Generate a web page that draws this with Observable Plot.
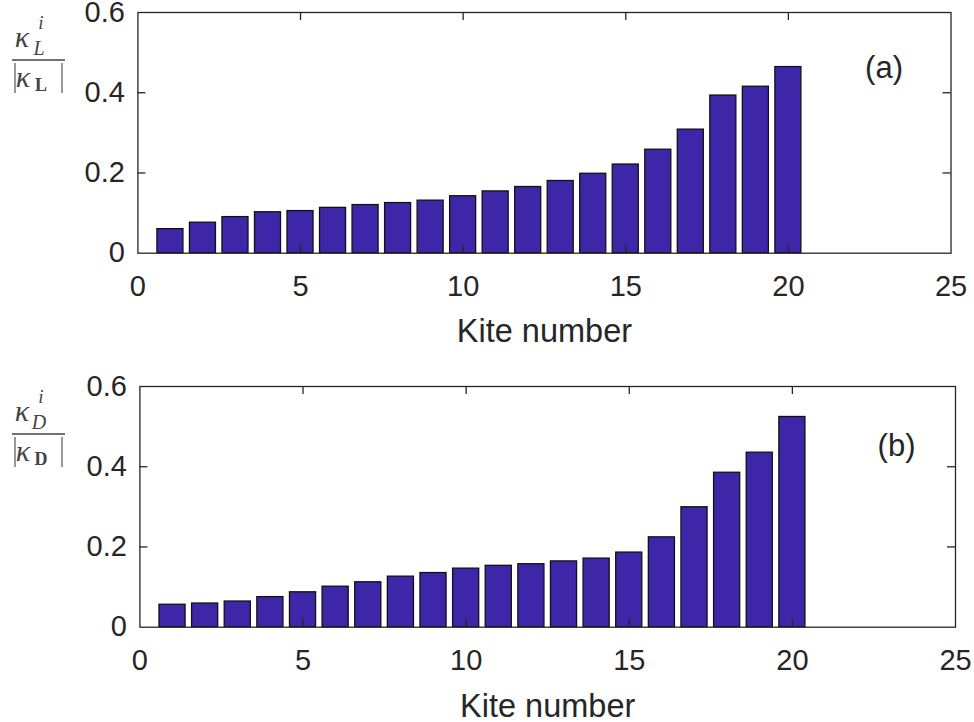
<!DOCTYPE html>
<html>
<head>
<meta charset="utf-8">
<script src="https://cdn.jsdelivr.net/npm/d3@7"></script>
<script src="https://cdn.jsdelivr.net/npm/@observablehq/plot@0.6"></script>
<style>
  html, body { margin: 0; padding: 0; background: #fff; }
  #chart svg { display: block; }
</style>
</head>
<body>
<div id="chart"></div>
<script>
// ---- data ----
const kiteNumbers = [1, 2, 3, 4, 5, 6, 7, 8, 9, 10, 11, 12, 13, 14, 15, 16, 17, 18, 19, 20];
const liftShare = [0.060, 0.076, 0.090, 0.102, 0.105, 0.113, 0.120, 0.125, 0.131, 0.142,
                   0.154, 0.165, 0.180, 0.198, 0.221, 0.258, 0.308, 0.393, 0.415, 0.464];
const dragShare = [0.056, 0.059, 0.064, 0.075, 0.087, 0.101, 0.112, 0.126, 0.135, 0.146,
                   0.153, 0.157, 0.164, 0.171, 0.186, 0.224, 0.299, 0.385, 0.435, 0.524];
const xTicks = [0, 5, 10, 15, 20, 25];
const yTicks = [0, 0.2, 0.4, 0.6];
const xInnerTicks = [5, 10, 15, 20];
const yInnerTicks = [0.2, 0.4];
const xLabel = "Kite number";
const panelTags = ["(a)", "(b)"];
const subscripts = ["L", "D"];

const W = 974;
const barColor = "#3e26a8";
const ink = "#262626";

function panel(values, tag, sub, g) {
  const data = kiteNumbers.map((k, i) => ({k, v: values[i]}));
  const fw = W - g.ml - g.mr;
  const fh = g.h - g.mt - g.mb;
  const tl = 8;
  const svg = Plot.plot({
    width: W,
    height: g.h,
    marginTop: g.mt,
    marginBottom: g.mb,
    marginLeft: g.ml,
    marginRight: g.mr,
    style: {fontFamily: "'Liberation Sans', Arial, sans-serif", color: ink, background: "white", overflow: "visible"},
    x: {domain: [0, 25]},
    y: {domain: [0, 0.6]},
    marks: [
      Plot.rectY(data, {x1: d => d.k - 0.4, x2: d => d.k + 0.4, y: "v",
        fill: barColor, stroke: "#111", strokeWidth: 1.3}),
      Plot.frame({stroke: ink, strokeWidth: 1.3}),
      Plot.tickX(xInnerTicks, {x: d => d, insetTop: fh - tl, stroke: ink, strokeWidth: 1.3}),
      Plot.tickX(xInnerTicks, {x: d => d, insetBottom: fh - tl, stroke: ink, strokeWidth: 1.3}),
      Plot.tickY(yInnerTicks, {y: d => d, insetRight: fw - tl, stroke: ink, strokeWidth: 1.3}),
      Plot.tickY(yInnerTicks, {y: d => d, insetLeft: fw - tl, stroke: ink, strokeWidth: 1.3}),
      Plot.axisX({ticks: xTicks, tickSize: 0, tickPadding: 22, fontSize: 29, label: null, tickFormat: d => String(d)}),
      Plot.axisY({ticks: yTicks, tickSize: 0, tickPadding: 13, fontSize: 29, label: null, tickFormat: d => String(d)}),
      Plot.text([xLabel], {frameAnchor: "bottom", lineAnchor: "bottom", dy: g.labelDy, fontSize: 32.5, fill: ink}),
      Plot.text([tag], {frameAnchor: "top-right", textAnchor: "end", lineAnchor: "bottom",
        dx: g.tagDx, dy: g.tagDy, fontSize: 31, fill: ink})
    ]
  });
  // y-axis label: fraction  κ^i_sub / |κ_sub|
  const s = d3.select(svg);
  const t = g.mt;
  const math = "'Liberation Serif', 'DejaVu Serif', serif";
  const col = "#444";
  const lab = s.append("g").attr("fill", col).attr("font-family", math);
  lab.append("text").attr("x", 22).attr("y", t + 35).attr("font-size", 30).attr("font-style", "italic").text("κ");
  lab.append("text").attr("x", 41).attr("y", t + 17).attr("font-size", 19).attr("font-style", "italic").text("i");
  lab.append("text").attr("x", 39).attr("y", t + 43).attr("font-size", 20).attr("font-style", "italic").text(sub);
  s.append("line").attr("x1", 12).attr("x2", 65).attr("y1", t + 48).attr("y2", t + 48)
    .attr("stroke", col).attr("stroke-width", 1.6);
  s.append("line").attr("x1", 15).attr("x2", 15).attr("y1", t + 51).attr("y2", t + 81)
    .attr("stroke", "#777").attr("stroke-width", 1.5);
  s.append("line").attr("x1", 62).attr("x2", 62).attr("y1", t + 51).attr("y2", t + 81)
    .attr("stroke", "#777").attr("stroke-width", 1.5);
  lab.append("text").attr("x", 23).attr("y", t + 75).attr("font-size", 30).attr("font-style", "italic").text("κ");
  lab.append("text").attr("x", 41).attr("y", t + 79).attr("font-size", 18).attr("font-weight", "bold").text(sub);
  return svg;
}

const chart = document.getElementById("chart");
chart.append(panel(liftShare, panelTags[0], subscripts[0],
  {h: 361, mt: 12, mb: 108.3, ml: 137.4, mr: 23.5, labelDy: 89, tagDx: -48, tagDy: 65}));
chart.append(panel(dragShare, panelTags[1], subscripts[1],
  {h: 361, mt: 25, mb: 95.3, ml: 139.4, mr: 19, labelDy: 90, tagDx: -40, tagDy: 69}));
</script>
</body>
</html>
